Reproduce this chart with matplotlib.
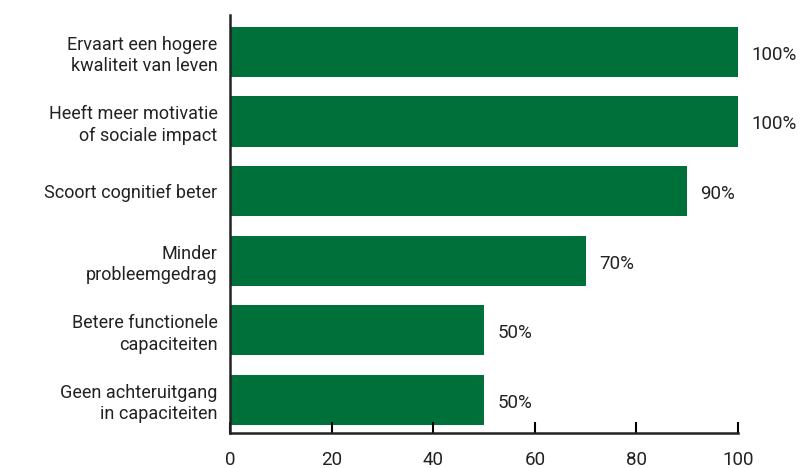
import matplotlib.pyplot as plt

categories = [
    "Ervaart een hogere\nkwaliteit van leven",
    "Heeft meer motivatie\nof sociale impact",
    "Scoort cognitief beter",
    "Minder\nprobleemgedrag",
    "Betere functionele\ncapaciteiten",
    "Geen achteruitgang\nin capaciteiten",
]
values = [100, 100, 90, 70, 50, 50]
xticks = [0, 20, 40, 60, 80, 100]

plt.rcParams['font.family'] = ['Roboto', 'DejaVu Sans']
green = "#00703a"
textcol = "#222222"
fs = 13

fig = plt.figure(figsize=(8.08, 4.68), dpi=100)
ax = fig.add_axes([0.2847, 0.0748, 0.6287, 0.8932])

pos = list(range(len(categories)))[::-1]
ax.barh(pos, values, height=0.72, color=green)
for p, v in zip(pos, values):
    ax.text(v + 2.6, p - 0.04, f"{v}%", va="center", ha="left",
            fontsize=13.5, color=textcol)

ax.set_xlim(0, 100)
ax.set_ylim(-0.474, 5.53)
ax.set_yticks(pos)
ax.set_yticklabels(categories, fontsize=fs, color=textcol, linespacing=1.25)
ax.set_xticks(xticks)
ax.set_xticklabels([str(t) for t in xticks], fontsize=13.5, color=textcol)
ax.tick_params(axis="y", length=0, pad=9)
ax.tick_params(axis="x", direction="in", length=8, width=1.5, pad=13)

for s in ["top", "right"]:
    ax.spines[s].set_visible(False)
for s in ["left", "bottom"]:
    ax.spines[s].set_linewidth(1.8)
    ax.spines[s].set_color("#222222")

fig.savefig("out.png", dpi=100)
